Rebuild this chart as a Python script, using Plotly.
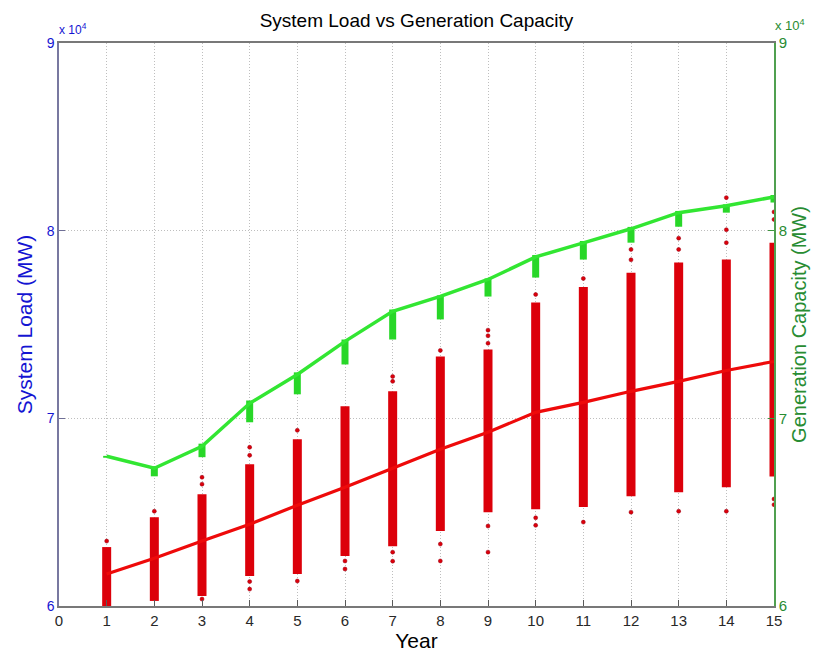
import plotly.graph_objects as go

# ---------------- data ----------------
years = list(range(1, 16))

# mean system load (MW) - red line
load_mean = [61700, 62550, 63460, 64360, 65370, 66330, 67340, 68350,
             69260, 70320, 70850, 71440, 71970, 72550, 73030]

# dense part of each year's simulated load cloud (MW)
load_core_low = [60000, 60270, 60530, 61600, 61700, 62660, 63190, 64000,
                 65000, 65160, 65270, 65850, 66060, 66330, 66900]
load_core_high = [63140, 64730, 65960, 67550, 68880, 70640, 71440, 73300,
                  73670, 76170, 77000, 77760, 78300, 78460, 79360]

# isolated load samples outside the dense part
outlier_years = [1, 2, 3, 3, 3, 4, 4, 4, 4, 5, 5, 6, 6, 7, 7, 7, 7,
                 8, 8, 8, 9, 9, 9, 9, 9, 10, 10, 10, 11, 11,
                 12, 12, 12, 13, 13, 13, 14, 14, 14, 14, 15, 15, 15, 15]
outlier_loads = [63460, 65050, 66860, 66490, 60370, 68460, 68030, 61300, 60900,
                 69360, 61330, 62400, 61970, 72230, 71970, 62390, 62870,
                 73620, 63300, 62400, 74700, 74400, 74000, 64260, 62870,
                 76600, 64700, 64300, 77450, 64470,
                 78450, 79000, 65000, 79600, 79000, 65050,
                 81760, 80050, 79360, 65050, 81000, 80600, 65700, 65400]

# generation capacity (MW) - green line and its sample spread
gen_capacity = [67980, 67340, 68510, 70800, 72340, 74100, 75700, 76500,
                77400, 78600, 79350, 80100, 80960, 81330, 81800]
gen_low = [67900, 66910, 67930, 69790, 71280, 72870, 74200, 75270,
           76490, 77500, 78460, 79360, 80210, 80960, 81500]
gen_high = [68000, 67450, 68650, 70950, 72450, 74200, 75800, 76550,
            77450, 78700, 79450, 80200, 81050, 81400, 81900]

x_ticks = list(range(0, 16))
y_tickvals = [60000, 70000, 80000, 90000]
y_ticktext = ["6", "7", "8", "9"]

# ---------------- styling ----------------
FONT = "Liberation Sans, Arial, sans-serif"
BLUE = "rgb(20,20,210)"
GREEN_TXT = "rgb(40,140,50)"
RED = "rgb(238,10,10)"
RED_DOT = "rgb(220,0,10)"
GREEN = "rgb(50,230,50)"
GRID = "rgb(190,190,190)"


def segments(xv, lo, hi):
    xs, ys = [], []
    for x, a, b in zip(xv, lo, hi):
        xs += [x, x, None]
        ys += [a, b, None]
    return xs, ys


fig = go.Figure()

cx, cy = segments(years, load_core_low, load_core_high)
fig.add_trace(go.Scatter(x=cx, y=cy, mode="lines",
                         line=dict(color=RED_DOT, width=9),
                         hoverinfo="skip", showlegend=False))
fig.add_trace(go.Scatter(x=outlier_years, y=outlier_loads, mode="markers",
                         marker=dict(color=RED_DOT, size=4,
                                     line=dict(width=0.5, color="rgb(150,0,20)")),
                         showlegend=False))
fig.add_trace(go.Scatter(x=years, y=load_mean, mode="lines",
                         line=dict(color=RED, width=3.2),
                         name="System Load", showlegend=False))

gx, gy = segments(years, gen_low, gen_high)
fig.add_trace(go.Scatter(x=gx, y=gy, mode="lines", yaxis="y2",
                         line=dict(color="rgb(40,215,40)", width=7),
                         hoverinfo="skip", showlegend=False))
fig.add_trace(go.Scatter(x=years, y=gen_capacity, mode="lines", yaxis="y2",
                         line=dict(color=GREEN, width=3.5),
                         name="Generation Capacity", showlegend=False))

H = 649
fig.update_layout(
    width=811, height=H,
    margin=dict(l=51, r=41, t=35, b=42),
    paper_bgcolor="white", plot_bgcolor="white",
    font=dict(family=FONT, size=14, color="rgb(30,30,30)"),
    title=dict(text="System Load vs Generation Capacity",
               x=0.5, xref="paper", y=1 - 12 / H, yanchor="middle",
               font=dict(size=19, color="black", family=FONT)),
    xaxis=dict(range=[0, 15], tickvals=x_ticks,
               ticks="inside", ticklen=6, tickcolor="rgb(90,90,90)",
               showline=True, linecolor="rgb(120,120,120)", linewidth=1.5,
               mirror=True,
               showgrid=True, gridcolor=GRID, griddash="1px,2px", gridwidth=1,
               zeroline=False,
               tickfont=dict(size=15, color="rgb(40,40,40)"),
               title=dict(text="Year", standoff=2,
                          font=dict(size=21, color="black"))),
    yaxis=dict(range=[60000, 90000], tickvals=y_tickvals, ticktext=y_ticktext,
               ticks="inside", ticklen=6, tickcolor="rgb(110,110,150)",
               showline=True, linecolor="rgb(120,120,160)", linewidth=1.5,
               showgrid=True, gridcolor=GRID, griddash="1px,2px", gridwidth=1,
               zeroline=False,
               tickfont=dict(size=14, color=BLUE),
               title=dict(text="System Load (MW)", standoff=8,
                          font=dict(size=21, color=BLUE))),
    yaxis2=dict(range=[60000, 90000], tickvals=y_tickvals, ticktext=y_ticktext,
                overlaying="y", side="right",
                ticks="inside", ticklen=6, tickcolor="rgb(60,150,60)",
                showline=True, linecolor="rgb(80,160,80)", linewidth=1.5,
                showgrid=False, zeroline=False,
                tickfont=dict(size=15, color=GREEN_TXT),
                title=dict(text="Generation Capacity (MW)", standoff=6,
                           font=dict(size=20, color=GREEN_TXT))),
    annotations=[
        dict(text="x 10<sup>4</sup>", xref="paper", yref="paper",
             x=0, y=1, xanchor="left", yanchor="bottom", xshift=-2, yshift=4,
             showarrow=False, font=dict(size=12, color=BLUE)),
        dict(text="x 10<sup>4</sup>", xref="paper", yref="paper",
             x=1, y=1, xanchor="left", yanchor="bottom", xshift=-1, yshift=8,
             showarrow=False, font=dict(size=13, color=GREEN_TXT)),
    ],
)

fig.write_html("out.html")
